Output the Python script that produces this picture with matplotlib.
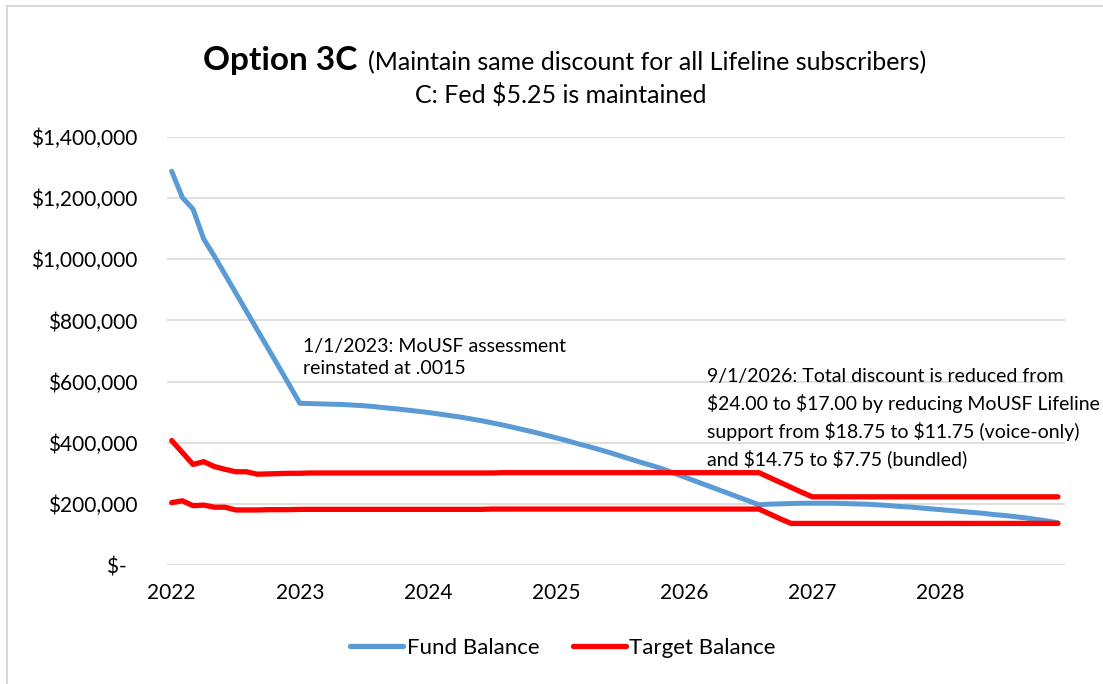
import matplotlib
matplotlib.use("Agg")
import matplotlib.pyplot as plt
from matplotlib.lines import Line2D
from matplotlib.ticker import FuncFormatter

plt.rcParams['font.family'] = ['Lato', 'DejaVu Sans']

# monthly values, Jan 2022 .. Dec 2028 (in $ thousands)
fund_balance = [
    1288, 1202, 1164, 1066, 1010, 950, 890, 830, 770, 710, 650, 590,
    529, 528, 527, 526, 525, 523, 521, 518, 514, 511, 507, 503,
    499, 494, 489, 484, 478, 472, 465, 458, 450, 442, 434, 425,
    416, 407, 397, 388, 378, 368, 357, 346, 335, 325, 314, 301,
    288, 275, 262, 249, 236, 223, 210, 197, 199, 200, 201, 202,
    202, 202, 202, 201, 200, 199, 197, 195, 192, 190, 187, 184,
    181, 178, 175, 172, 169, 165, 162, 158, 154, 149, 144, 138,
]
target_high = [
    407, 368, 329, 338, 322, 313, 305, 305, 297, 298, 299, 300,
    300, 301, 301, 301, 301, 301, 301, 301, 301, 301, 301, 301,
    301, 301, 301, 301, 301, 301, 301, 302, 302, 302, 302, 302,
    302, 302, 302, 302, 302, 302, 302, 302, 302, 302, 302, 302,
    302, 302, 302, 302, 302, 302, 302, 302, 286, 270, 254, 238,
    223, 223, 223, 223, 223, 223, 223, 223, 223, 223, 223, 223,
    223, 223, 223, 223, 223, 223, 223, 223, 223, 223, 223, 223,
]
target_low = [
    204, 210, 194, 196, 189, 189, 180, 180, 180, 181, 181, 181,
    182, 182, 182, 182, 182, 182, 182, 182, 182, 182, 182, 182,
    182, 182, 182, 182, 182, 182, 183, 183, 183, 183, 183, 183,
    183, 183, 183, 183, 183, 183, 183, 183, 183, 183, 183, 183,
    183, 183, 183, 183, 183, 183, 183, 183, 167, 151, 136, 136,
    136, 136, 136, 136, 136, 136, 136, 136, 136, 136, 136, 136,
    136, 136, 136, 136, 136, 136, 136, 136, 136, 136, 136, 136,
]
year_labels = ['2022', '2023', '2024', '2025', '2026', '2027', '2028']

BLUE = '#5B9BD5'
RED = '#FF0000'
W, H = 1103, 684

months = list(range(len(fund_balance)))
fund = [v * 1000 for v in fund_balance]
hi = [v * 1000 for v in target_high]
lo = [v * 1000 for v in target_low]

fig = plt.figure(figsize=(W / 100, H / 100), dpi=100)
ax = fig.add_axes([167 / W, 1 - 565 / H, (1065 - 167) / W, (565 - 137) / H])

ax.plot(months, fund, color=BLUE, lw=3.6, solid_capstyle='round', zorder=3)
ax.plot(months, hi, color=RED, lw=3.8, solid_capstyle='round', zorder=3)
ax.plot(months, lo, color=RED, lw=3.8, solid_capstyle='round', zorder=3)

ax.set_xlim(-0.44, 83.66)
ax.set_ylim(0, 1400000)
ax.set_yticks(range(0, 1400001, 200000))
ax.yaxis.set_major_formatter(FuncFormatter(lambda v, p: '$-  ' if v == 0 else '${:,.0f}'.format(v)))
ax.set_xticks(range(0, 84, 12))
ax.set_xticklabels(year_labels)
ax.tick_params(axis='both', length=0, labelsize=15)
ax.tick_params(axis='y', pad=21)
ax.tick_params(axis='x', pad=13)
ax.grid(axis='y', color='#D9D9D9', lw=1.2)
ax.set_axisbelow(True)
for s in ax.spines.values():
    s.set_visible(False)

# titles
fig.text(357 / W, 1 - 70 / H, 'Option 3C', fontsize=24, fontweight='bold', ha='right', va='baseline')
fig.text(368 / W, 1 - 70 / H, '(Maintain same discount for all Lifeline subscribers)', fontsize=18,
         ha='left', va='baseline', parse_math=False)
fig.text(561 / W, 1 - 103 / H, 'C: Fed $5.25 is maintained', fontsize=18, ha='center', va='baseline',
         parse_math=False)

# notes
fig.text(303 / W, 1 - 338 / H, '1/1/2023: MoUSF assessment\nreinstated at .0015', fontsize=14,
         ha='left', va='top', linespacing=1.38, parse_math=False)
fig.text(707 / W, 1 - 368 / H,
         '9/1/2026: Total discount is reduced from\n$24.00 to $17.00 by reducing MoUSF Lifeline\n'
         'support from $18.75 to $11.75 (voice-only)\nand $14.75 to $7.75 (bundled)',
         fontsize=14, ha='left', va='top', linespacing=1.55, parse_math=False)

handles = [Line2D([], [], color=BLUE, lw=3.8, solid_capstyle='round'),
           Line2D([], [], color=RED, lw=3.8, solid_capstyle='round')]
fig.legend(handles, ['Fund Balance', 'Target Balance'], loc='center', bbox_to_anchor=(563 / W, 1 - 648 / H),
           ncol=2, frameon=False, fontsize=16, handlelength=2.4, handletextpad=0.15, columnspacing=1.5)

# chart border (left and top edges)
fig.add_artist(Line2D([6.5 / W, 6.5 / W], [0, 1 - 5.5 / H], transform=fig.transFigure, color='#D9D9D9', lw=1.5))
fig.add_artist(Line2D([6.5 / W, 1], [1 - 5.5 / H, 1 - 5.5 / H], transform=fig.transFigure, color='#D9D9D9', lw=1.5))

fig.savefig('out.png', dpi=100)
